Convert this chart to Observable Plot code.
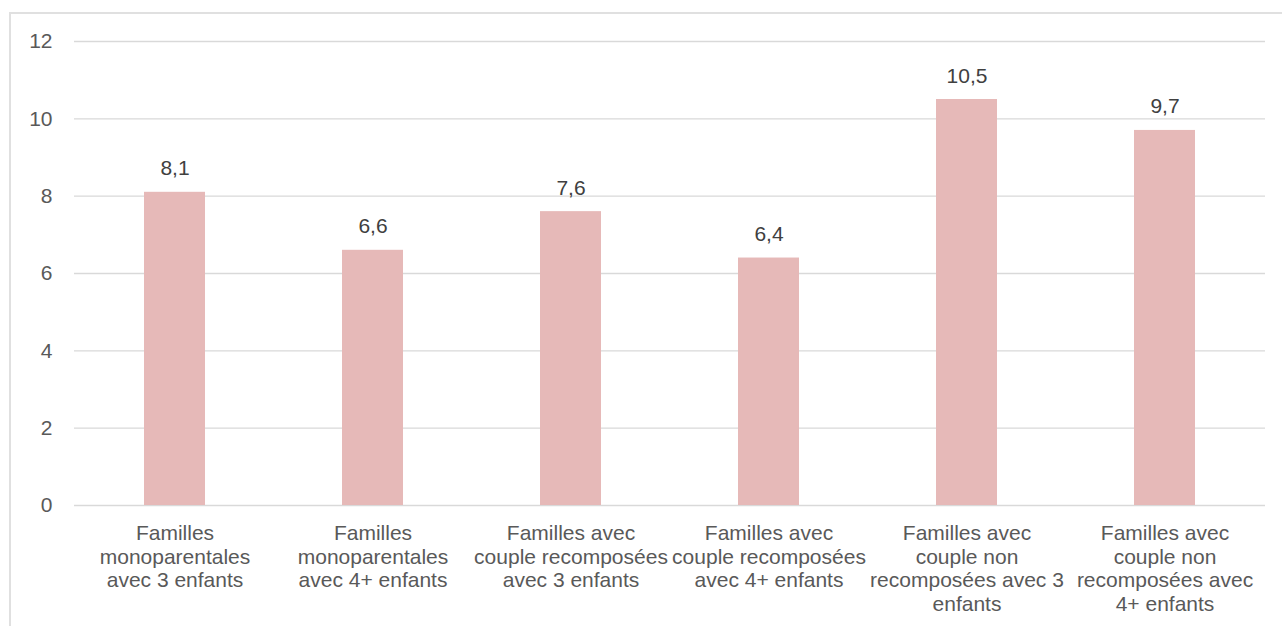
<!DOCTYPE html>
<html>
<head>
<meta charset="utf-8">
<script src="https://cdn.jsdelivr.net/npm/d3@7"></script>
<script src="https://cdn.jsdelivr.net/npm/@observablehq/plot@0.6"></script>
<style>
  html, body { margin: 0; padding: 0; background: #fff; }
  #wrap { position: relative; width: 1282px; height: 626px; overflow: hidden; }
  #border { position: absolute; left: 9px; top: 12px; width: 1290px; height: 700px;
            border-left: 2px solid #e0e0e0; border-top: 2px solid #e0e0e0; box-sizing: border-box; }
  #chart { position: absolute; left: 0; top: 0; }
</style>
</head>
<body>
<div id="wrap"><div id="border"></div><div id="chart"></div></div>
<script>
const categories = [
  "Familles monoparentales avec 3 enfants",
  "Familles monoparentales avec 4+ enfants",
  "Familles avec couple recomposées avec 3 enfants",
  "Familles avec couple recomposées avec 4+ enfants",
  "Familles avec couple non recomposées avec 3 enfants",
  "Familles avec couple non recomposées avec 4+ enfants"
];
const tickLabels = [
  "Familles\nmonoparentales\navec 3 enfants",
  "Familles\nmonoparentales\navec 4+ enfants",
  "Familles avec\ncouple recomposées\navec 3 enfants",
  "Familles avec\ncouple recomposées\navec 4+ enfants",
  "Familles avec\ncouple non\nrecomposées avec 3\nenfants",
  "Familles avec\ncouple non\nrecomposées avec\n4+ enfants"
];
const values = [8.1, 6.6, 7.6, 6.4, 10.5, 9.7];
const yTicks = [0, 2, 4, 6, 8, 10, 12];

const data = categories.map((c, i) => ({category: c, value: values[i]}));
const labelOf = new Map(categories.map((c, i) => [c, tickLabels[i]]));
const fmt = v => v.toFixed(1).replace(".", ",");

const font = "'Liberation Sans', Arial, sans-serif";

const chart = Plot.plot({
  width: 1282,
  height: 626,
  marginLeft: 74,
  marginRight: 17,
  marginTop: 41,
  marginBottom: 121,
  style: {fontFamily: font, fontSize: "21px", background: "transparent", color: "#595959"},
  x: {domain: categories, paddingInner: 0.69, paddingOuter: 0.345, label: null},
  y: {domain: [0, 12], label: null},
  marks: [
    Plot.gridY(yTicks, {stroke: "#d9d9d9", strokeOpacity: 1, strokeWidth: 1.3}),
    Plot.barY(data, {x: "category", y: "value", fill: "#e6b9b8"}),
    Plot.text(data, {x: "category", y: "value", text: d => fmt(d.value), dy: -17,
      lineAnchor: "bottom", fill: "#404040", fontSize: 21}),
    Plot.axisY(yTicks, {tickSize: 0, tickPadding: 22, tickFormat: d => String(d),
      fill: "#595959", fontSize: 21, label: null}),
    Plot.axisX({tickSize: 0, tickPadding: 18, tickFormat: d => labelOf.get(d),
      lineHeight: 1.12, fill: "#595959", fontSize: 21, label: null, lineWidth: Infinity})
  ]
});
document.getElementById("chart").appendChild(chart);
</script>
</body>
</html>
